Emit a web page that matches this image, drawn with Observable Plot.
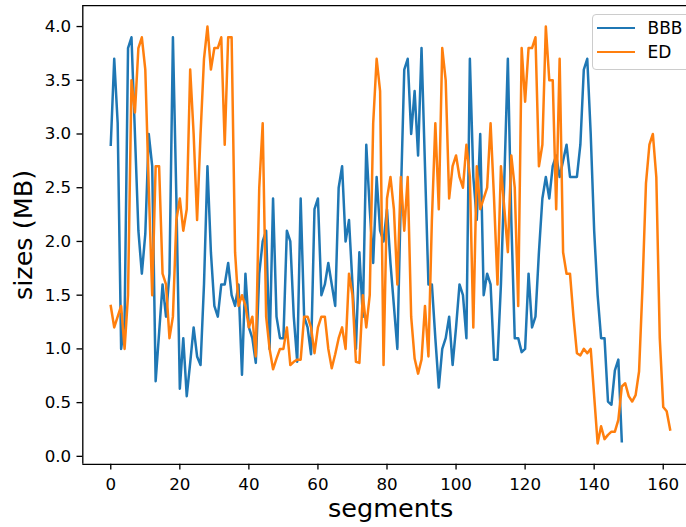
<!DOCTYPE html>
<html>
<head>
<meta charset="utf-8">
<script src="https://cdn.jsdelivr.net/npm/d3@7"></script>
<script src="https://cdn.jsdelivr.net/npm/@observablehq/plot@0.6"></script>
<style>
  html, body { margin: 0; padding: 0; background: #fff; overflow: hidden; }
  #wrap { position: relative; width: 686px; height: 527px; overflow: hidden; }
  #wrap svg { display: block; }
  .legend { position: absolute; left: 591.5px; top: 14px; width: 120px; height: 56px; box-sizing: border-box;
            border: 1.3px solid #cccccc; border-radius: 4px; background: rgba(255,255,255,0.8);
            font-family: "DejaVu Sans", sans-serif; font-size: 17px; color: #000; }
  .legend .sw { position: absolute; left: 4.5px; width: 37.5px; height: 0; border-top: 2.5px solid; }
  .legend .lb { position: absolute; left: 55px; line-height: 20px; }
</style>
</head>
<body>
<div id="wrap"></div>
<script>
// ---- data ----
const seriesNames = ["BBB", "ED"];
const seriesColors = ["#1f77b4", "#ff7f0e"];

const bbbSizes = [
  2.9, 3.7, 3.1, 1.0, 1.25, 3.8, 3.9, 3.0, 2.1, 1.7,
  2.07, 3.0, 2.7, 0.7, 1.15, 1.6, 1.3, 1.7, 3.9, 2.4,
  0.63, 1.1, 0.56, 0.87, 1.2, 0.93, 0.85, 1.6, 2.7, 1.9,
  1.4, 1.3, 1.6, 1.6, 1.8, 1.5, 1.4, 1.6, 0.76, 1.7,
  1.2, 1.1, 0.87, 1.7, 2.0, 2.1, 1.0, 2.4, 1.3, 1.1,
  1.1, 2.1, 2.0, 1.3, 0.88, 2.4, 1.3, 1.2, 0.95, 2.3,
  2.4, 1.5, 1.6, 1.8, 1.6, 1.4, 2.5, 2.7, 2.0, 2.2,
  1.6, 1.0, 1.9, 1.3, 2.9, 2.3, 1.8, 2.6, 2.1, 2.0,
  2.3, 1.8, 1.4, 1.0, 2.4, 3.6, 3.7, 3.0, 3.4, 2.8,
  3.8, 2.7, 1.6, 1.6, 1.1, 0.64, 1.0, 1.1, 1.3, 0.85,
  1.2, 1.6, 1.5, 1.1, 3.7, 2.6, 2.2, 3.0, 1.5, 1.7,
  1.6, 0.9, 0.9, 1.6, 2.6, 3.7, 2.2, 1.1, 1.1, 0.97,
  1.0, 1.7, 1.2, 1.3, 1.9, 2.4, 2.6, 2.4, 2.7, 2.8,
  2.6, 2.75, 2.9, 2.6, 2.6, 2.6, 2.9, 3.6, 3.7, 3.0,
  2.1, 1.5, 1.1, 1.1, 0.51, 0.48, 0.8, 0.9, 0.14
];

const edSizes = [
  1.4, 1.2, 1.3, 1.4, 1.0, 1.5, 3.5, 3.2, 3.8, 3.9,
  3.6, 2.5, 1.5, 2.7, 2.7, 1.7, 1.6, 1.1, 1.3, 2.2,
  2.4, 2.1, 2.3, 3.6, 3.0, 2.2, 3.0, 3.7, 4.0, 3.6,
  3.8, 3.8, 3.9, 2.9, 3.9, 3.9, 1.9, 1.4, 1.5, 1.4,
  1.2, 1.3, 0.93, 2.5, 3.1, 1.3, 1.0, 0.81, 0.91, 1.0,
  1.0, 1.2, 0.85, 0.88, 0.9, 0.9, 1.3, 1.3, 1.2, 0.96,
  1.2, 1.3, 1.3, 1.0, 0.82, 0.95, 1.1, 1.2, 1.0, 1.7,
  1.5, 0.88, 0.87, 1.5, 1.2, 1.5, 3.1, 3.7, 3.4, 0.85,
  2.4, 2.6, 2.3, 1.6, 2.6, 2.1, 2.6, 1.3, 0.91, 0.77,
  0.9, 1.4, 0.93, 2.2, 3.1, 2.3, 3.8, 3.5, 2.4, 2.7,
  2.8, 2.6, 2.5, 2.9, 2.6, 1.2, 2.7, 2.3, 2.4, 2.5,
  3.1, 2.4, 1.6, 2.7, 2.3, 1.9, 2.8, 2.5, 1.4, 3.8,
  3.3, 3.8, 3.8, 3.9, 2.7, 2.9, 4.0, 3.5, 3.5, 2.3,
  3.7, 1.9, 1.7, 1.7, 1.3, 0.96, 0.94, 1.0, 0.96, 1.0,
  0.56, 0.12, 0.28, 0.16, 0.2, 0.23, 0.23, 0.34, 0.65, 0.68,
  0.56, 0.51, 0.57, 0.79, 1.58, 2.54, 2.9, 3.0, 2.6, 1.1,
  0.46, 0.42, 0.25
];

const xTicks = [0, 20, 40, 60, 80, 100, 120, 140, 160];
const yTicks = [0, 0.5, 1.0, 1.5, 2.0, 2.5, 3.0, 3.5, 4.0];
const xLabel = "segments";
const yLabel = "sizes (MB)";

// ---- build ----
const xDomain = [-8.1, 170.1];
const yDomain = [-0.074, 4.194];
const bbb = bbbSizes.map((v, i) => ({segment: i, size: v}));
const ed = edSizes.map((v, i) => ({segment: i, size: v}));

const tickStyle = {tickSize: 5.8, strokeWidth: 1.33, fontSize: 16.7, label: null};

const chart = Plot.plot({
  width: 686,
  height: 527,
  marginLeft: 82.3,
  marginRight: 0,
  marginTop: 5.2,
  marginBottom: 63.2,
  style: {fontFamily: "'DejaVu Sans', sans-serif", fontSize: "16.7px", color: "#000", background: "#fff"},
  x: {domain: xDomain, range: [82.3, 697.6]},
  y: {domain: yDomain, range: [463.8, 5.2]},
  marks: [
    Plot.axisY(yTicks, {...tickStyle, tickPadding: 5.8, tickFormat: d3.format(".1f")}),
    Plot.axisX(xTicks, {...tickStyle, tickPadding: 8, tickFormat: d3.format("d")}),
    Plot.line(bbb, {x: "segment", y: "size", stroke: seriesColors[0], strokeWidth: 2.5, strokeLinejoin: "round", strokeLinecap: "square"}),
    Plot.line(ed, {x: "segment", y: "size", stroke: seriesColors[1], strokeWidth: 2.5, strokeLinejoin: "round", strokeLinecap: "square"}),
    Plot.ruleX([xDomain[0]], {stroke: "#000", strokeWidth: 1.33}),
    Plot.ruleY([yDomain[0], yDomain[1]], {stroke: "#000", strokeWidth: 1.33}),
    Plot.text([xLabel], {frameAnchor: "bottom", lineAnchor: "middle", textAnchor: "middle", dx: 6, dy: 44.5, fontSize: 25.5, fill: "#000"}),
    Plot.text([yLabel], {frameAnchor: "left", lineAnchor: "middle", textAnchor: "middle", rotate: -90, dx: -58.8, fontSize: 25.5, fill: "#000"})
  ]
});

const wrap = document.getElementById("wrap");
wrap.appendChild(chart);

// legend
const legend = document.createElement("div");
legend.className = "legend";
const rowTops = [14.3, 38.7];
seriesNames.forEach((name, k) => {
  const sw = document.createElement("div");
  sw.className = "sw";
  sw.style.borderTopColor = seriesColors[k];
  sw.style.top = (rowTops[k] - 1.25 - 1.3) + "px";
  legend.appendChild(sw);
  const lb = document.createElement("div");
  lb.className = "lb";
  lb.textContent = name;
  lb.style.top = (rowTops[k] - 10 - 1.3) + "px";
  legend.appendChild(lb);
});
wrap.appendChild(legend);
</script>
</body>
</html>
